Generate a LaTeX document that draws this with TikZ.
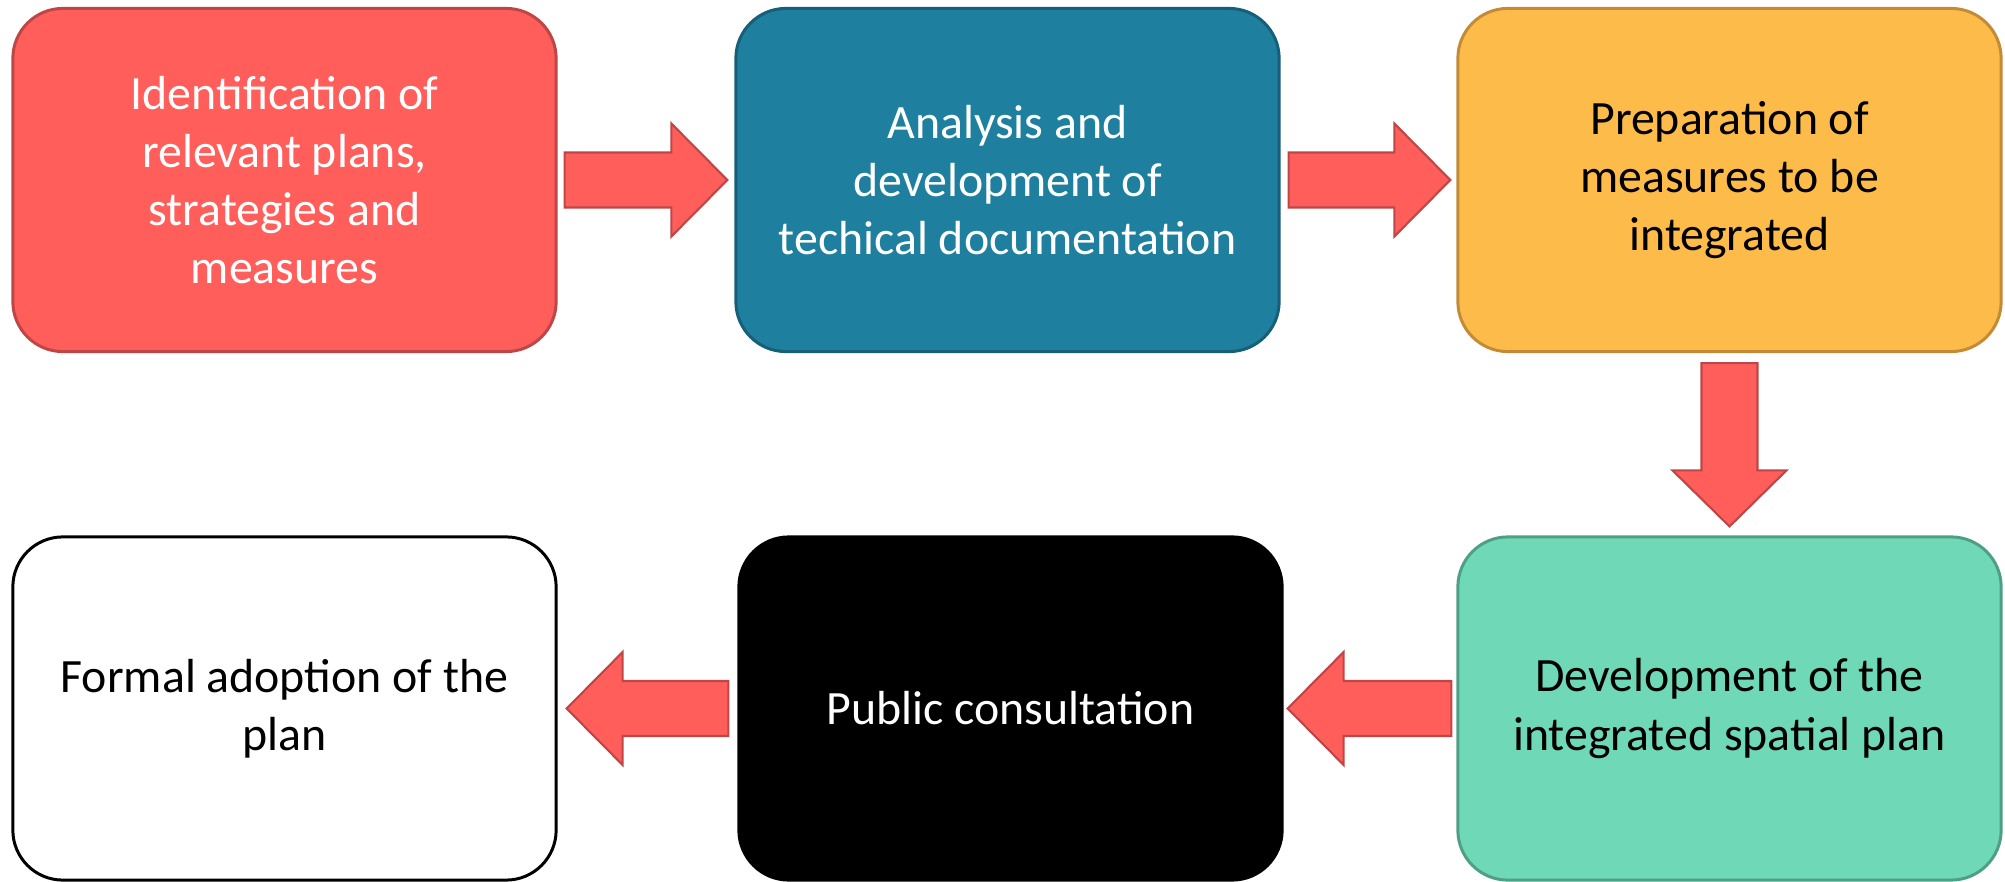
\documentclass[tikz,border=0pt]{standalone}
\usepackage{fontspec}
\setmainfont{Carlito}
\usetikzlibrary{calc}
\definecolor{redF}{HTML}{FF5E5B}
\definecolor{redD}{HTML}{BF4646}
\definecolor{blueF}{HTML}{1F7F9E}
\definecolor{blueD}{HTML}{155F78}
\definecolor{orF}{HTML}{FDBB4A}
\definecolor{orD}{HTML}{C48B36}
\definecolor{grF}{HTML}{6FD8B7}
\definecolor{grD}{HTML}{4F9E86}
\tikzset{
  box/.style={rectangle, rounded corners=0.5cm, line width=0.85pt, inner sep=0pt,
    minimum width=5.43cm, minimum height=3.43cm, align=center,
    font=\fontsize{13.6}{16.5}\selectfont},
  blk/.style={fill=redF, draw=redD, line width=0.6pt, line join=miter}
}
\newcommand{\hblk}[3]{%
  \draw[blk] ($(#1)+(0,-27.5)$) -- ($(#2)+({-56*(#3)},-27.5)$) -- ($(#2)+({-56*(#3)},-56.5)$) -- (#2)
    -- ($(#2)+({-56*(#3)},56.5)$) -- ($(#2)+({-56*(#3)},27.5)$) -- ($(#1)+(0,27.5)$) -- cycle;}
\begin{document}
\begin{tikzpicture}[x=0.01cm,y=-0.01cm]
\useasboundingbox (0,0) rectangle (2005,882);
\node[box, fill=redF, draw=redD, text=white] (b1) at (284.5,180) {Identification of\\relevant plans,\\strategies and\\measures};
\node[box, fill=blueF, draw=blueD, text=white] (b2) at (1007.5,180) {Analysis and\\development of\\techical documentation};
\node[box, fill=orF, draw=orD, text=black] (b3) at (1729.5,180) {Preparation of\\measures to be\\integrated};
\node[box, fill=white, draw=black, text=black] (b4) at (284.5,708.5) {Formal adoption of the\\plan};
\node[box, fill=black, draw=black, text=white] (b5) at (1010.5,708.5) {Public consultation};
\node[box, fill=grF, draw=grD, text=black] (b6) at (1729.5,708.5) {Development of the\\integrated spatial plan};
% arrow 1
\coordinate (a1s) at ($(b1.east)+(7,0)$);
\coordinate (a1e) at ($(b2.west)+(-7,0)$);
\hblk{a1s}{a1e}{1}
% arrow 2
\coordinate (a2s) at ($(b2.east)+(8,0)$);
\coordinate (a2e) at ($(b3.west)+(-6,0)$);
\hblk{a2s}{a2e}{1}
% arrow 4 (green -> black)
\coordinate (a4s) at ($(b6.west)+(-5,0)$);
\coordinate (a4e) at ($(b5.east)+(4,0)$);
\hblk{a4s}{a4e}{-1}
% arrow 5 (black -> white)
\coordinate (a5s) at ($(b5.west)+(-9,0)$);
\coordinate (a5e) at ($(b4.east)+(9,0)$);
\hblk{a5s}{a5e}{-1}
% arrow 3 (down)
\coordinate (a3s) at ($(b3.south)+(0,10)$);
\coordinate (a3e) at ($(b6.north)+(0,-9)$);
\draw[blk] ($(a3s)+(-28,0)$) -- ($(a3e)+(-28,-56)$) -- ($(a3e)+(-57,-56)$) -- (a3e)
  -- ($(a3e)+(57,-56)$) -- ($(a3e)+(28,-56)$) -- ($(a3s)+(28,0)$) -- cycle;
\end{tikzpicture}
\end{document}
